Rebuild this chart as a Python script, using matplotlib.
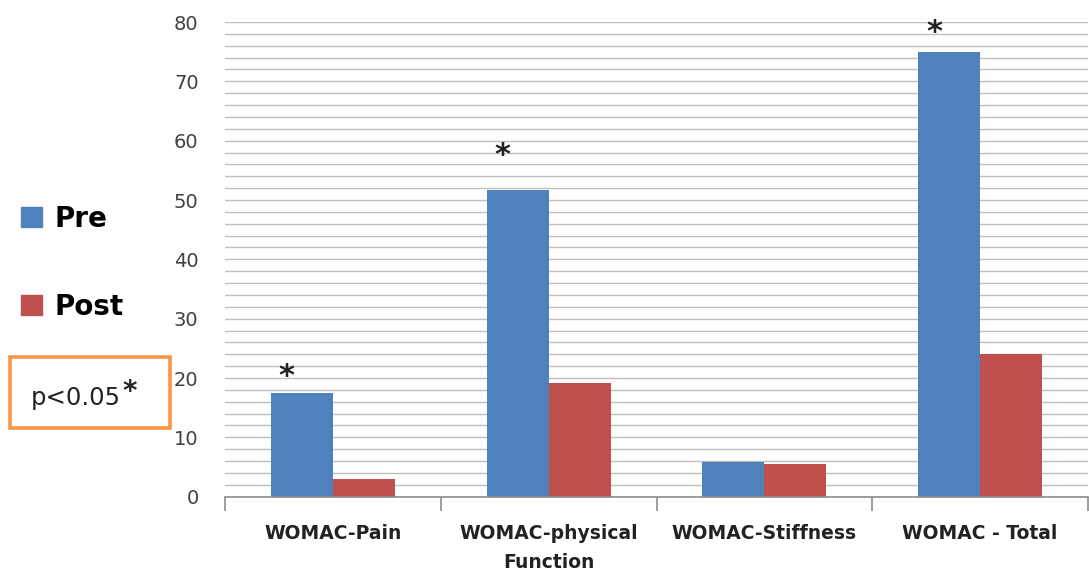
import matplotlib.pyplot as plt
import numpy as np
from matplotlib.patches import Patch, Rectangle

plt.rcParams["font.family"] = ["DejaVu Sans"]

categories = ["WOMAC-Pain", "WOMAC-physical\nFunction", "WOMAC-Stiffness", "WOMAC - Total"]
pre = [17.4, 51.7, 5.8, 74.9]
post = [3.0, 19.2, 5.5, 24.0]
significant = [True, True, False, True]
y_ticks = [0, 10, 20, 30, 40, 50, 60, 70, 80]

blue = "#4F81BD"
red = "#C0504D"
width = 0.287
# how far above the Pre bar each star sits
star_pad = [2.9, 5.8, 0.0, 3.4]

fig = plt.figure(figsize=(10.89, 5.79), dpi=100)
ax = fig.add_axes([225 / 1089, 1 - 496.7 / 579, 863 / 1089, 474.7 / 579])

x = np.arange(len(categories))
ax.bar(x - width / 2, pre, width, color=blue, zorder=3)
ax.bar(x + width / 2, post, width, color=red, zorder=3)

for i, sig in enumerate(significant):
    if sig:
        ax.text(x[i] - width / 2 - 0.07, pre[i] + star_pad[i], "*", ha="center",
                va="center", fontsize=22, fontweight="bold", color="#222222", zorder=4)

ax.set_xlim(-0.5, len(categories) - 0.5)
ax.set_ylim(0, 80)
ax.set_yticks(y_ticks)
ax.set_yticks(np.arange(0, 81, 2), minor=True)
ax.yaxis.grid(True, which="both", color="#BFBFBF", linewidth=1.0, zorder=0)
ax.tick_params(axis="y", which="both", length=0, pad=19, labelsize=14, labelcolor="#404040")

ax.set_xticks(np.arange(-0.5, len(categories), 1.0))
ax.set_xticklabels([])
ax.set_xticks(x, minor=True)
ax.set_xticklabels(categories, minor=True, fontsize=13.5, fontweight="bold",
                   color="#222222", linespacing=1.65)
ax.tick_params(axis="x", which="major", length=10, color="#8C8C8C", width=1.2)
ax.tick_params(axis="x", which="minor", length=0, pad=20)

for side in ["left", "right", "top"]:
    ax.spines[side].set_visible(False)
ax.spines["bottom"].set_color("#8C8C8C")
ax.spines["bottom"].set_linewidth(1.2)
ax.spines["bottom"].set_zorder(5)

handles = [Patch(facecolor=blue, edgecolor=blue), Patch(facecolor=red, edgecolor=red)]
fig.legend(handles, ["Pre", "Post"], loc="upper left", bbox_to_anchor=(21 / 1089, 1 - 205 / 579),
           frameon=False, prop={"size": 20, "weight": "bold"}, handlelength=0.75,
           handleheight=0.75, handletextpad=0.45, labelspacing=2.15,
           borderpad=0, borderaxespad=0)

fig.add_artist(Rectangle((10 / 1089, 1 - 428 / 579), 160 / 1089, 71 / 579,
                         transform=fig.transFigure, fill=False, edgecolor="#F79646",
                         linewidth=2.6))
fig.text(31 / 1089, 1 - 398 / 579, "p<0.05", fontsize=17.5, va="center", color="#222222")
fig.text(122 / 1089, 1 - 392 / 579, "*", fontsize=20, fontweight="bold", va="center",
         color="#222222")

fig.savefig("out.png", dpi=100)
